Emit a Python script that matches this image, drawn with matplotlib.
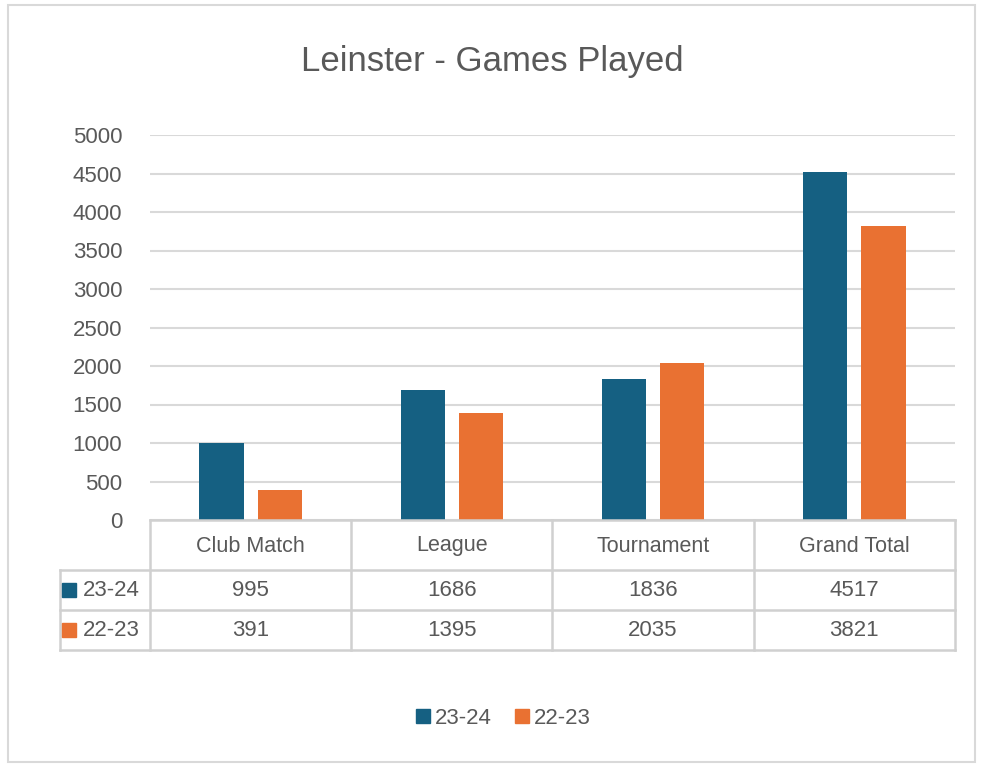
import numpy as np
import matplotlib.pyplot as plt
from matplotlib.patches import Rectangle

plt.rcParams['font.family'] = ['Liberation Sans Narrow', 'Liberation Sans', 'DejaVu Sans']

# data
categories = ["Club Match", "League", "Tournament", "Grand Total"]
series_names = ["23-24", "22-23"]
vals_2324 = [995, 1686, 1836, 4517]
vals_2223 = [391, 1395, 2035, 3821]
colors = ["#156082", "#E97132"]

W, H = 984, 766
fig = plt.figure(figsize=(W / 100, H / 100), dpi=100)

def fx(px):
    return px / W

def fy(py):
    return 1 - py / H

# outer frame of the chart
fig.patches.append(Rectangle((fx(8), fy(762)), fx(967), fy(5) - fy(762), transform=fig.transFigure,
                             fill=False, edgecolor="#D9D9D9", linewidth=1.5))

# main bar axes
ax_l, ax_r, ax_t, ax_b = 150, 955, 135, 520
ax = fig.add_axes([fx(ax_l), fy(ax_b), fx(ax_r - ax_l), fy(ax_t) - fy(ax_b)])
x = np.arange(len(categories))
bw = 0.22
off = 0.145
ax.bar(x - off, vals_2324, bw, color=colors[0], zorder=3)
ax.bar(x + off, vals_2223, bw, color=colors[1], zorder=3)
ax.set_xlim(-0.5, len(categories) - 0.5)
ax.set_ylim(0, 5000)
ax.set_yticks(range(0, 5001, 500))
ax.yaxis.grid(True, color="#D9D9D9", linewidth=1.5, zorder=0)
ax.set_xticks([])
for s in ax.spines.values():
    s.set_visible(False)
ax.tick_params(axis="y", length=0, pad=20, labelsize=16, labelcolor="#595959")
ax.set_facecolor("none")

fig.text(0.5, fy(62), "Leinster - Games Played", ha="center", va="center",
         fontsize=25, color="#595959")

# data table below the axes
tl = 60
cat_w = (ax_r - ax_l) / len(categories)
left_units = -0.5 - (ax_l - tl) / cat_w
tab = fig.add_axes([fx(tl), fy(650), fx(ax_r - tl), fy(520) - fy(650)])
tab.set_xlim(left_units, len(categories) - 0.5)
tab.set_ylim(650, 520)
tab.axis("off")
lc = "#D0D0D0"
lw = 1.8
tab.plot([-0.5, 3.5], [520, 520], color=lc, lw=lw, clip_on=False)
for yy in [570, 610, 650]:
    tab.plot([left_units, 3.5], [yy, yy], color=lc, lw=lw, clip_on=False)
for i in range(len(categories) + 1):
    tab.plot([i - 0.5, i - 0.5], [520, 650], color=lc, lw=lw, clip_on=False)
tab.plot([left_units, left_units], [570, 650], color=lc, lw=lw, clip_on=False)

for i, c in enumerate(categories):
    tab.text(i, 546, c, ha="center", va="center", fontsize=15.5, color="#595959")
rows = [vals_2324, vals_2223]
for r, (name, vals) in enumerate(zip(series_names, rows)):
    yc = 590 + 40 * r
    tab.plot([left_units + 0.045], [yc], marker="s", markersize=10, color=colors[r], clip_on=False)
    tab.text(left_units + 0.115, yc, name, ha="left", va="center", fontsize=16, color="#595959")
    for i, v in enumerate(vals):
        tab.text(i, yc, str(v), ha="center", va="center", fontsize=16, color="#595959")

# legend
handles = [plt.Line2D([], [], marker="s", linestyle="", markersize=10, color=c) for c in colors]
fig.legend(handles, series_names, loc="center", bbox_to_anchor=(fx(503), fy(718)), ncol=2,
           frameon=False, fontsize=16, handletextpad=0.2, columnspacing=1.0,
           labelcolor="#595959", handlelength=0.7)

fig.savefig("out.png", dpi=100)
